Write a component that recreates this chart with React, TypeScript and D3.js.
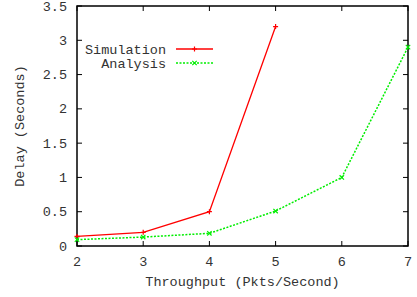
import * as d3 from "d3";
import { useEffect, useRef } from "react";

const xTicks = [2, 3, 4, 5, 6, 7];
const yTicks = [0, 0.5, 1, 1.5, 2, 2.5, 3, 3.5];
const simX = [2, 3, 4, 5];
const simY = [0.14, 0.2, 0.5, 3.2];
const anaX = [2, 3, 4, 5, 6, 7];
const anaY = [0.093, 0.13, 0.185, 0.51, 1.0, 2.9];

function App() {
  const ref = useRef<SVGSVGElement | null>(null);

  useEffect(() => {
    const svg = d3.select(ref.current);
    svg.selectAll("*").remove();

    const margin = { top: 6, right: 9, bottom: 51, left: 77 };
    const W = 417, H = 297;
    const x = d3.scaleLinear().domain([2, 7]).range([margin.left, W - margin.right]);
    const y = d3.scaleLinear().domain([0, 3.5]).range([H - margin.bottom, margin.top]);
    const font = "'Courier New', 'Liberation Mono', monospace";
    const fs = 13.5;
    const tk = 5;

    // ticks, inside and mirrored
    const g = svg.append("g").attr("stroke", "#000").attr("stroke-width", 1);
    xTicks.forEach(t => {
      g.append("line").attr("x1", x(t)).attr("x2", x(t)).attr("y1", y(0)).attr("y2", y(0) - tk);
      g.append("line").attr("x1", x(t)).attr("x2", x(t)).attr("y1", y(3.5)).attr("y2", y(3.5) + tk);
    });
    yTicks.forEach(t => {
      g.append("line").attr("x1", x(2)).attr("x2", x(2) + tk).attr("y1", y(t)).attr("y2", y(t));
      g.append("line").attr("x1", x(7)).attr("x2", x(7) - tk).attr("y1", y(t)).attr("y2", y(t));
    });

    svg.append("rect")
      .attr("x", x(2)).attr("y", y(3.5))
      .attr("width", x(7) - x(2)).attr("height", y(0) - y(3.5))
      .attr("fill", "none").attr("stroke", "#000").attr("stroke-width", 1.5);

    const txt = svg.append("g").attr("font-family", font).attr("font-size", fs).attr("fill", "#333");
    xTicks.forEach(t => {
      txt.append("text").attr("x", x(t)).attr("y", y(0) + 20).attr("text-anchor", "middle").text(t);
    });
    yTicks.forEach(t => {
      txt.append("text").attr("x", x(2) - 10).attr("y", y(t) + 4.5).attr("text-anchor", "end").text(t);
    });
    txt.append("text").attr("x", (x(2) + x(7)) / 2).attr("y", 286).attr("text-anchor", "middle")
      .text("Throughput (Pkts/Second)");
    txt.append("text").attr("transform", `translate(24,${(y(0) + y(3.5)) / 2}) rotate(-90)`)
      .attr("text-anchor", "middle").text("Delay (Seconds)");

    const line = d3.line<[number, number]>().x(d => x(d[0])).y(d => y(d[1]));
    const sim: [number, number][] = simX.map((v, i) => [v, simY[i]]);
    const ana: [number, number][] = anaX.map((v, i) => [v, anaY[i]]);
    const red = "#ff0000", green = "#00ee00";

    svg.append("path").attr("d", line(sim)).attr("fill", "none").attr("stroke", red).attr("stroke-width", 1.3);
    svg.append("path").attr("d", line(ana)).attr("fill", "none").attr("stroke", green)
      .attr("stroke-width", 1.5).attr("stroke-dasharray", "2,1.5");

    const plus = (px: number, py: number, c: string) => {
      const s = 2.5;
      svg.append("path").attr("d", `M${px - s},${py}H${px + s}M${px},${py - s}V${py + s}`)
        .attr("stroke", c).attr("stroke-width", 1.2);
    };
    const cross = (px: number, py: number, c: string) => {
      const s = 2.2;
      svg.append("path").attr("d", `M${px - s},${py - s}L${px + s},${py + s}M${px - s},${py + s}L${px + s},${py - s}`)
        .attr("stroke", c).attr("stroke-width", 1.2);
    };
    sim.forEach(d => plus(x(d[0]), y(d[1]), red));
    ana.forEach(d => cross(x(d[0]), y(d[1]), green));

    // legend
    const ly1 = 49, ly2 = 63, lx0 = 176, lx1 = 213;
    txt.append("text").attr("x", 166).attr("y", ly1 + 4.5).attr("text-anchor", "end").text("Simulation");
    txt.append("text").attr("x", 166).attr("y", ly2 + 4.5).attr("text-anchor", "end").text("Analysis");
    svg.append("line").attr("x1", lx0).attr("x2", lx1).attr("y1", ly1).attr("y2", ly1)
      .attr("stroke", red).attr("stroke-width", 1.3);
    plus((lx0 + lx1) / 2, ly1, red);
    svg.append("line").attr("x1", lx0).attr("x2", lx1).attr("y1", ly2).attr("y2", ly2)
      .attr("stroke", green).attr("stroke-width", 1.5).attr("stroke-dasharray", "2,1.5");
    cross((lx0 + lx1) / 2, ly2, green);
  }, []);

  return (
    <svg ref={ref} width={417} height={297}
      style={{ position: "absolute", left: 0, top: 0, background: "#fff" }} />
  );
}

export default App;
